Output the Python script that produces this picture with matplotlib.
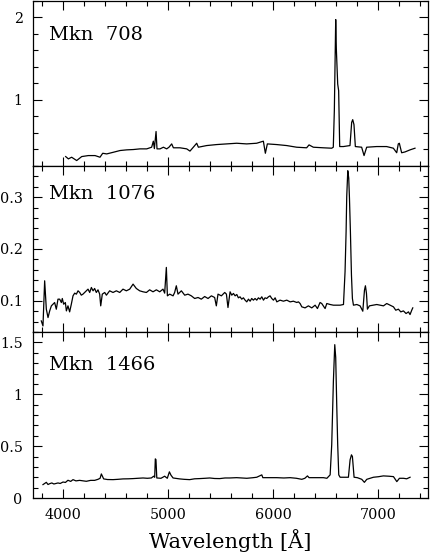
import matplotlib
matplotlib.use("Agg")
import matplotlib.pyplot as plt
from matplotlib.ticker import MultipleLocator, FixedFormatter, FixedLocator

# ---------------- data ----------------
names = ["Mkn  708", "Mkn  1076", "Mkn  1466"]

wl_708 = [4022, 4048, 4079, 4127, 4175, 4238, 4302, 4349, 4375, 4413, 4476, 4540,
          4603, 4667, 4730, 4794, 4841, 4857, 4867, 4883, 4892, 4921, 4953, 4984,
          5006, 5032, 5048, 5111, 5175, 5206, 5238, 5270, 5286, 5365, 5460, 5555,
          5651, 5746, 5841, 5905, 5924, 5943, 6032, 6127, 6222, 6317, 6340, 6381,
          6476, 6556, 6571, 6581, 6594, 6600, 6613, 6622, 6632, 6667, 6730, 6746,
          6756, 6768, 6781, 6841, 6864, 6889, 6984, 7079, 7143, 7175, 7190, 7200,
          7222, 7254, 7302, 7349]
fx_708 = [0.314, 0.286, 0.306, 0.266, 0.314, 0.326, 0.326, 0.306, 0.354, 0.346, 0.366, 0.387,
          0.395, 0.399, 0.407, 0.407, 0.427, 0.50, 0.41, 0.617, 0.407, 0.407, 0.427, 0.407,
          0.427, 0.467, 0.42, 0.42, 0.407, 0.38, 0.427, 0.475, 0.427, 0.447, 0.459, 0.467,
          0.475, 0.467, 0.475, 0.50, 0.354, 0.467, 0.459, 0.447, 0.427, 0.42, 0.455, 0.427,
          0.42, 0.415, 0.427, 0.87, 1.97, 1.615, 1.19, 1.11, 0.435, 0.435, 0.447, 0.727,
          0.76, 0.70, 0.435, 0.427, 0.326, 0.427, 0.435, 0.435, 0.415, 0.36, 0.467, 0.475,
          0.36, 0.37, 0.395, 0.415]

wl_1076 = [3790, 3806, 3822, 3838, 3854, 3870, 3886, 3902, 3917, 3933, 3949, 3965,
           3981, 3990, 4003, 4019, 4029, 4044, 4060, 4076, 4092, 4108, 4124, 4140,
           4156, 4171, 4187, 4203, 4235, 4251, 4267, 4283, 4298, 4314, 4330, 4346,
           4356, 4371, 4394, 4410, 4441, 4473, 4505, 4537, 4568, 4600, 4632, 4664,
           4695, 4727, 4759, 4791, 4822, 4854, 4886, 4918, 4949, 4965, 4981, 4991,
           5013, 5045, 5060, 5076, 5092, 5124, 5156, 5187, 5219, 5251, 5283, 5314,
           5346, 5378, 5410, 5441, 5457, 5473, 5505, 5537, 5553, 5568,
           5588, 5604, 5620, 5636, 5652, 5667, 5683, 5699, 5715, 5731, 5747, 5763,
           5779, 5794, 5810, 5826, 5842, 5858, 5874, 5890, 5906, 5921, 5937, 5953,
           5969, 5985, 6001, 6017, 6033, 6064, 6096, 6128, 6160, 6191, 6223, 6239,
           6255, 6271, 6302, 6334, 6366, 6398, 6420, 6445, 6461, 6493, 6509, 6541,
           6572, 6604, 6636, 6668, 6683, 6693, 6699, 6709, 6718, 6725, 6734, 6744,
           6753, 6763, 6795, 6826, 6852, 6868, 6877, 6887, 6896, 6915, 6953, 6985,
           7017, 7049, 7080, 7112, 7144, 7166, 7191, 7214, 7239, 7264, 7287, 7302,
           7318, 7328]
fx_1076 = [0.0614, 0.0517, 0.1387, 0.0839, 0.0678, 0.0807, 0.0904, 0.0936, 0.0968, 0.0839, 0.1033, 0.1033,
           0.0968, 0.1046, 0.0936, 0.0968, 0.0807, 0.0904, 0.0788, 0.0936, 0.1097, 0.1149, 0.1130, 0.1194,
           0.1162, 0.1110, 0.1130, 0.1162, 0.1226, 0.1162, 0.1258, 0.1194, 0.1239, 0.1162, 0.1213, 0.1130,
           0.0904, 0.1130, 0.1162, 0.1110, 0.1194, 0.1162, 0.1194, 0.1162, 0.1226, 0.1194, 0.1226, 0.1323,
           0.1239, 0.1194, 0.1175, 0.1162, 0.1213, 0.1175, 0.1213, 0.1175, 0.1226, 0.1149, 0.1645, 0.1097,
           0.1130, 0.1097, 0.1162, 0.1291, 0.1130, 0.1194, 0.1110, 0.1130, 0.1097, 0.1046, 0.1065, 0.1033,
           0.1084, 0.1046, 0.1097, 0.1065, 0.0904, 0.1130, 0.1097, 0.1162, 0.1130, 0.0872,
           0.1175, 0.1110, 0.1143, 0.1097, 0.1123, 0.1059, 0.1078, 0.1033, 0.1059, 0.1014, 0.0981, 0.1033,
           0.0994, 0.1046, 0.1014, 0.1046, 0.1014, 0.1059, 0.1033, 0.1078, 0.1014, 0.1059, 0.1046, 0.1078,
           0.1097, 0.1046, 0.1014, 0.1059, 0.0981, 0.1014, 0.0994, 0.1014, 0.0981, 0.0994, 0.0969, 0.0981,
           0.0949, 0.0885, 0.0865, 0.0904, 0.0865, 0.0917, 0.0852, 0.0969, 0.0949, 0.0852, 0.0949, 0.0930,
           0.0917, 0.0917, 0.0917, 0.0930, 0.1562, 0.2335, 0.3012, 0.3509, 0.3367, 0.2980, 0.2335, 0.1497,
           0.1046, 0.0917, 0.0930, 0.0904, 0.0801, 0.1207, 0.1291, 0.1143, 0.0840, 0.0904, 0.0917, 0.0930,
           0.0917, 0.0904, 0.0949, 0.0917, 0.0885, 0.0820, 0.0840, 0.0788, 0.0807, 0.0756, 0.0788, 0.0736,
           0.0820, 0.0865]

wl_1466 = [3806, 3822, 3838, 3854, 3870, 3890, 3910, 3949, 3970, 3997, 4020, 4044,
           4070, 4092, 4120, 4155, 4190, 4219, 4260, 4298, 4330, 4350, 4362, 4384,
           4420, 4473, 4520, 4568, 4620, 4663, 4710, 4759, 4800, 4838, 4860, 4870,
           4876, 4882, 4890, 4930, 4965, 4990, 5010, 5025, 5045, 5108, 5150, 5203,
           5250, 5298, 5350, 5394, 5440, 5489, 5540, 5584, 5650, 5700, 5747, 5800,
           5842, 5890, 5900, 5960, 6033, 6100, 6160, 6220, 6271, 6300, 6325, 6340,
           6400, 6477, 6510, 6541, 6556, 6572, 6585, 6594, 6604, 6613, 6623, 6636,
           6680, 6715, 6731, 6744, 6753, 6769, 6800, 6842, 6867, 6890, 6953, 7000,
           7048, 7100, 7144, 7176, 7201, 7239, 7270, 7302]
fx_1466 = [0.129, 0.140, 0.151, 0.130, 0.138, 0.145, 0.135, 0.145, 0.140, 0.154, 0.150, 0.171,
           0.160, 0.177, 0.165, 0.170, 0.165, 0.161, 0.170, 0.170, 0.180, 0.190, 0.232, 0.184,
           0.178, 0.177, 0.180, 0.184, 0.185, 0.187, 0.190, 0.193, 0.190, 0.193, 0.210, 0.200,
           0.377, 0.370, 0.193, 0.190, 0.210, 0.190, 0.252, 0.220, 0.193, 0.184, 0.180, 0.177,
           0.185, 0.187, 0.190, 0.193, 0.188, 0.187, 0.193, 0.193, 0.196, 0.193, 0.190, 0.195,
           0.200, 0.223, 0.196, 0.196, 0.196, 0.193, 0.196, 0.190, 0.180, 0.190, 0.213, 0.196,
           0.196, 0.196, 0.190, 0.223, 0.513, 1.129, 1.478, 1.355, 0.888, 0.513, 0.223, 0.200,
           0.200, 0.200, 0.368, 0.416, 0.400, 0.200, 0.196, 0.180, 0.151, 0.180, 0.200, 0.205,
           0.213, 0.210, 0.206, 0.158, 0.190, 0.190, 0.185, 0.200]

ylims = [(0.2, 2.2), (0.04, 0.36), (0.0, 1.6)]
ymajor_ticks = [[1, 2], [0.1, 0.2, 0.3], [0, 0.5, 1, 1.5]]
ymajor_labels = [["1", "2"], ["0.1", "0.2", "0.3"], ["0", "0.5", "1", "1.5"]]
yminor_step = [0.2, 0.02, 0.1]
xticks = [4000, 5000, 6000, 7000]
xticklabels = ["4000", "5000", "6000", "7000"]
xlabel = "Wavelength [Å]"

# ---------------- figure ----------------
W, H = 430, 554
fig = plt.figure(figsize=(W / 100, H / 100), dpi=100)
plt.rcParams["font.family"] = ["DejaVu Serif"]

L, R = 33, 428
tops = [0.5, 166, 332]
bots = [166, 332, 498]
label_base = [40.5, 199, 369.5]

series = [(wl_708, fx_708), (wl_1076, fx_1076), (wl_1466, fx_1466)]

for i in range(3):
    ax = fig.add_axes([L / W, (H - bots[i]) / H, (R - L) / W, (bots[i] - tops[i]) / H])
    wl, fx = series[i]
    ax.plot(wl, fx, color="black", lw=0.9)
    ax.set_xlim(3711, 7473)
    ax.set_ylim(*ylims[i])
    ax.xaxis.set_major_locator(FixedLocator(xticks))
    ax.xaxis.set_minor_locator(MultipleLocator(200))
    ax.yaxis.set_major_locator(FixedLocator(ymajor_ticks[i]))
    ax.yaxis.set_major_formatter(FixedFormatter(ymajor_labels[i]))
    ax.yaxis.set_minor_locator(MultipleLocator(yminor_step[i]))
    ax.tick_params(which="both", direction="in", top=True, right=True,
                   width=0.8, colors="black", labelsize=10.3)
    ax.tick_params(which="major", length=6.5, pad=7.5)
    ax.tick_params(which="minor", length=3.6)
    for s in ax.spines.values():
        s.set_linewidth(0.9)
    if i < 2:
        ax.tick_params(axis="x", labelbottom=False)
    else:
        ax.set_xticklabels(xticklabels)
        ax.set_xlabel(xlabel, fontsize=15, labelpad=5)
    ax.text((49 - L) / (R - L), (bots[i] - label_base[i]) / (bots[i] - tops[i]),
            names[i], transform=ax.transAxes, fontsize=14, ha="left", va="baseline")

fig.savefig("out.png", dpi=100)
